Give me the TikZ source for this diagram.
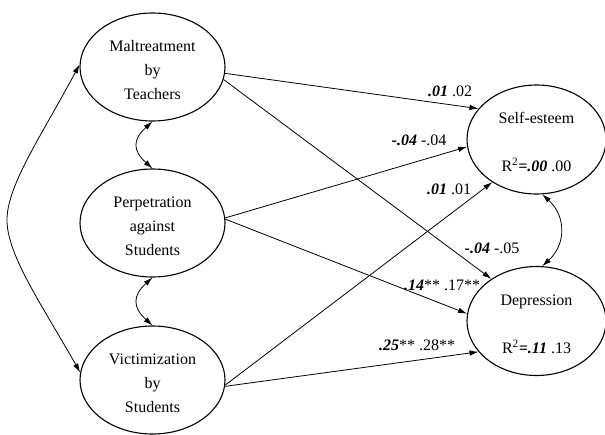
\documentclass[tikz,border=0pt]{standalone}
\usepackage{fontspec}
\setmainfont{Liberation Serif}
\usetikzlibrary{shapes.geometric,arrows.meta}
\newcommand{\bi}[1]{\textbf{\textit{#1}}}
\newcommand{\tstrut}{\rule{0pt}{17pt}}
\begin{document}
\begin{tikzpicture}[x=1pt,y=-1pt,
  latent/.style={draw, ellipse, line width=1.1pt, minimum width=145pt, minimum height=108pt, inner sep=0pt, align=center, font=\fontsize{16}{24}\selectfont},
  outcome/.style={latent, minimum width=139pt, minimum height=109pt},
  pathar/.style={-{Latex[length=9pt,width=5.5pt]}, line width=0.8pt},
  cov/.style={{Latex[length=9pt,width=5.5pt]}-{Latex[length=9pt,width=5.5pt]}, line width=0.8pt},
  coef/.style={anchor=base, inner sep=0pt, font=\fontsize{16}{24}\selectfont}]
\useasboundingbox (0,0) rectangle (605,434);
\node[latent] (mal) at (152.5,67) {\tstrut Maltreatment\\by\\Teachers};
\node[latent] (perp) at (152.5,223) {\tstrut Perpetration\\against\\Students};
\node[latent] (vic) at (152.5,380) {\tstrut Victimization\\by\\Students};
\node[outcome] (self) at (536.5,139.5) {\tstrut Self-esteem\\[24pt]R\textsuperscript{2}\bi{=.00} .00};
\node[outcome] (dep) at (536.5,321) {\tstrut Depression\\[24pt]R\textsuperscript{2}\bi{=.11} .13};
\coordinate (lft) at (7,220);
% paths
\draw[pathar] (mal.-5) -- (self.152);
\draw[pathar] (mal.-10) -- (dep.137);
\draw[pathar] (perp.4) -- (self.-174);
\draw[pathar] (perp.3) -- (dep.174);
\draw[pathar] (vic.-4) -- (self.-136);
\draw[pathar] (vic.-5) -- (dep.-152);
% covariances
\draw[cov] (mal.south) .. controls +(-20,18) and +(-20,-18) .. (perp.north);
\draw[cov] (perp.south) .. controls +(-20,18) and +(-20,-18) .. (vic.north);
\draw[cov] (mal.178) .. controls (42,135) and (7,185) .. (lft) .. controls (7,255) and (42,305) .. (vic.174);
\draw[cov] (self.-84) .. controls +(24,22) and +(24,-22) .. (dep.84);
% coefficients
\node[coef] (c1) at (450,96) {\bi{.01} .02};
\node[coef] (c2) at (419,145) {\bi{-.04} -.04};
\node[coef] (c3) at (449,194) {\bi{.01} .01};
\node[coef] (c4) at (492,253) {\bi{-.04} -.05};
\node[coef] (c5) at (442,290) {\bi{.14}** .17**};
\node[coef] (c6) at (417,350) {\bi{.25}** .28**};
\end{tikzpicture}
\end{document}
